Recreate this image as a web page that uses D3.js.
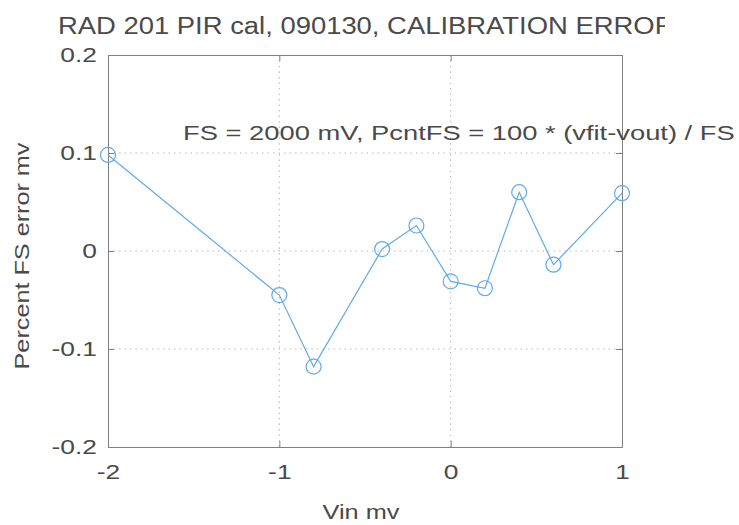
<!DOCTYPE html>
<html>
<head>
<meta charset="utf-8">
<script src="https://cdn.jsdelivr.net/npm/d3@7"></script>
<style>
  body { margin: 0; background: #fff; }
  text { font-family: "Liberation Sans", Arial, sans-serif; fill: #4a4a4a; }
</style>
</head>
<body>
<svg id="chart"></svg>
<script>
const vin = [-2, -1, -0.8, -0.4, -0.2, 0, 0.2, 0.4, 0.6, 1]
const pcntErr = [0.098, -0.045, -0.118, 0.002, 0.026, -0.031, -0.038, 0.060, -0.014, 0.059]
const xTicks = [-2, -1, 0, 1]
const yTicks = [-0.2, -0.1, 0, 0.1, 0.2]

const width = 739
const height = 525
const margin = { top: 55, right: 117, bottom: 78, left: 108 }

const svg = d3.select('#chart')
  .attr('width', width)
  .attr('height', height)

const x = d3.scaleLinear().domain([-2, 1]).range([margin.left, width - margin.right])
const y = d3.scaleLinear().domain([-0.2, 0.2]).range([height - margin.bottom, margin.top])

const gridColor = '#b8b8b8'
const axisColor = '#808080'
const tickSx = 1.32 // the original font is drawn wider than Liberation Sans

// stretch a text horizontally so it spans `target` px, about its anchor
function stretchTo (sel, target, tx, ty, rot) {
  const len = sel.node().getComputedTextLength()
  const sx = target / len
  sel.attr('x', 0).attr('y', 0)
    .attr('transform', `translate(${tx},${ty})` + (rot ? ` rotate(${rot})` : '') + ` scale(${sx},1)`)
  return sx
}

// dotted grid
svg.append('g')
  .selectAll('line')
  .data(xTicks.slice(1, -1))
  .enter().append('line')
  .attr('x1', d => x(d)).attr('x2', d => x(d))
  .attr('y1', y(0.2)).attr('y2', y(-0.2))
  .attr('stroke', gridColor)
  .attr('stroke-dasharray', '1.5,4')
svg.append('g')
  .selectAll('line')
  .data(yTicks.slice(1, -1))
  .enter().append('line')
  .attr('x1', x(-2)).attr('x2', x(1))
  .attr('y1', d => y(d)).attr('y2', d => y(d))
  .attr('stroke', gridColor)
  .attr('stroke-dasharray', '1.5,4')

// axes with inward ticks
const fmt = d => d3.format('')(d).replace('−', '-')
const axBottom = svg.append('g')
  .attr('transform', `translate(0,${y(-0.2)})`)
  .call(d3.axisBottom(x).tickValues(xTicks).tickSize(-6).tickPadding(18).tickFormat(fmt))
const axTop = svg.append('g')
  .attr('transform', `translate(0,${y(0.2)})`)
  .call(d3.axisTop(x).tickValues(xTicks).tickSize(-6).tickFormat(''))
const axLeft = svg.append('g')
  .attr('transform', `translate(${x(-2)},0)`)
  .call(d3.axisLeft(y).tickValues(yTicks).tickSize(-6).tickPadding(11).tickFormat(fmt))
const axRight = svg.append('g')
  .attr('transform', `translate(${x(1)},0)`)
  .call(d3.axisRight(y).tickValues(yTicks).tickSize(-6).tickFormat(''))

;[axBottom, axTop, axLeft, axRight].forEach(g => {
  g.selectAll('path, line').attr('stroke', axisColor)
  g.selectAll('text').style('font-size', '20px').attr('fill', '#4a4a4a')
    .attr('transform', `scale(${tickSx},1)`)
})
axLeft.selectAll('text').attr('x', -11 / tickSx)

// data line and circle markers
const lineColor = '#62aae8'
const pts = vin.map((v, i) => [v, pcntErr[i]])
svg.append('path')
  .datum(pts)
  .attr('fill', 'none')
  .attr('stroke', lineColor)
  .attr('stroke-width', 1.2)
  .attr('d', d3.line().x(d => x(d[0])).y(d => y(d[1])))

svg.append('g')
  .selectAll('circle')
  .data(pts)
  .enter().append('circle')
  .attr('cx', d => x(d[0]))
  .attr('cy', d => y(d[1]))
  .attr('r', 7.5)
  .attr('fill', 'none')
  .attr('stroke', lineColor)
  .attr('stroke-width', 1.2)

// title, clipped at the right like the original
svg.append('clipPath').attr('id', 'titleClip')
  .append('rect').attr('x', 0).attr('y', 0).attr('width', 665).attr('height', 45)
const probe = svg.append('text').style('font-size', '23px').text('RAD 201 PIR cal, 090130')
const titleSx = 314 / probe.node().getComputedTextLength()
probe.remove()
svg.append('g').attr('clip-path', 'url(#titleClip)')
  .append('text')
  .attr('transform', `translate(58,34) scale(${titleSx},1)`)
  .style('font-size', '23px')
  .text('RAD 201 PIR cal, 090130, CALIBRATION ERROR')

// annotation
stretchTo(svg.append('text')
  .style('font-size', '20px')
  .text('FS = 2000 mV, PcntFS = 100 * (vfit-vout) / FS'), 552, 183, 140)

// axis labels
stretchTo(svg.append('text')
  .attr('text-anchor', 'middle')
  .style('font-size', '21px')
  .text('Vin mv'), 77, 361, 519)
stretchTo(svg.append('text')
  .attr('text-anchor', 'middle')
  .style('font-size', '20px')
  .text('Percent FS error mv'), 227, 29, 256, -90)
</script>
</body>
</html>
